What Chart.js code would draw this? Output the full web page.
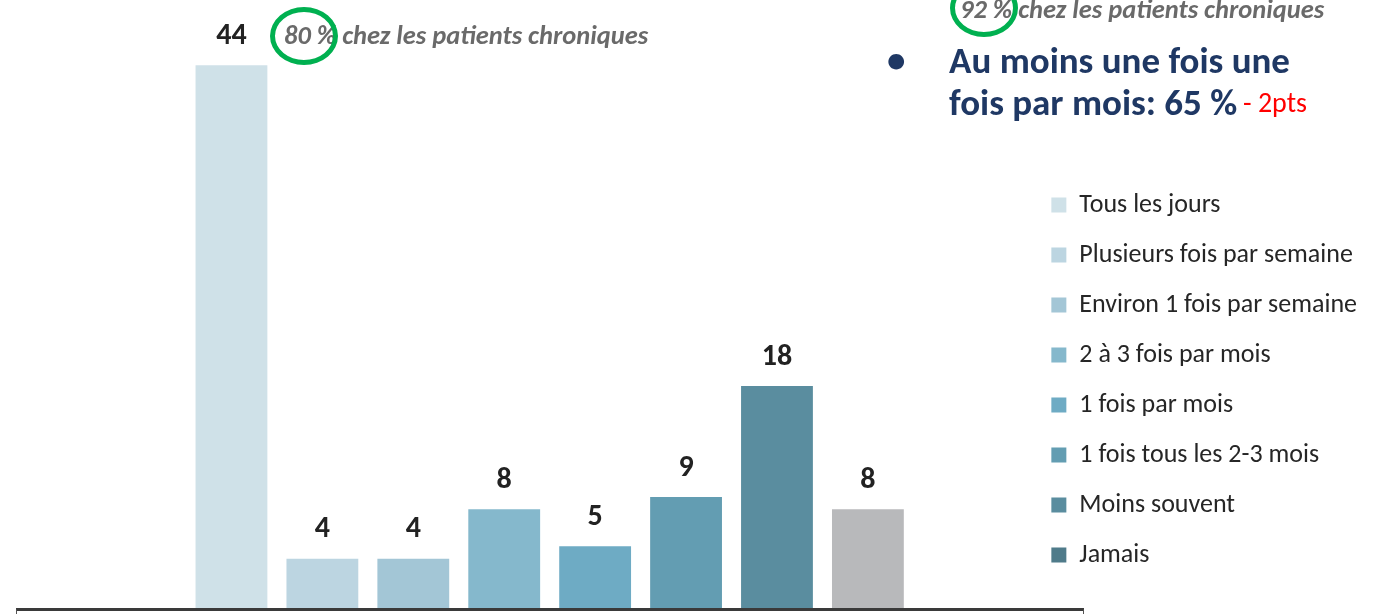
<!DOCTYPE html>
<html>
<head>
<meta charset="utf-8">
<script src="https://cdn.jsdelivr.net/npm/chart.js@4.4.1/dist/chart.umd.min.js"></script>
<style>
    body { margin: 0; background: #fff; }
    #wrap { position: relative; width: 1383px; height: 614px; overflow: hidden; font-family: Carlito, Lato, sans-serif; }
    #chart { position: absolute; left: 0; top: 0; }
    .note { position: absolute; white-space: nowrap; line-height: 1; }
    .chron { font-size: 26.5px; font-weight: bold; font-style: italic; color: #6a6a6a; }
    .ring { position: absolute; box-sizing: border-box; border: 5px solid #00b050; border-radius: 50%; width: 68px; height: 58px; }
    .big { font-size: 37px; font-weight: bold; color: #1f3864; }
    .red { font-size: 28px; color: #ff0000; }
    #frame { position: absolute; left: 16px; top: 608px; width: 1068px; height: 20px; box-sizing: border-box;
             border-top: 3px solid #3a3a3a; border-left: 1px solid #555; border-right: 1px solid #555; }
</style>
</head>
<body>
<div id="wrap">
    <canvas id="chart" width="1383" height="614"></canvas>
    <div class="note chron" style="left:284px; top:22px;">80 % chez les patients chroniques</div>
    <div class="ring" style="left:270px; top:7px;"></div>
    <div class="note chron" style="left:960px; top:-4px;">92 % chez les patients chroniques</div>
    <div class="ring" style="left:950px; top:-21px;"></div>
    <div class="note big" style="left:887px; top:41px;">•</div>
    <div class="note big" style="left:949px; top:42px;">Au moins une fois une</div>
    <div class="note big" style="left:949px; top:84px;">fois par mois: 65 %</div>
    <div class="note red" style="left:1243px; top:89px;">- 2pts</div>
    <div id="frame"></div>
</div>
<script>
// frequence d'utilisation (%)
const categories = [
    'Tous les jours',
    'Plusieurs fois par semaine',
    'Environ 1 fois par semaine',
    '2 à 3 fois par mois',
    '1 fois par mois',
    '1 fois tous les 2-3 mois',
    'Moins souvent',
    'Jamais'
];
const values = [44, 4, 4, 8, 5, 9, 18, 8];
const barColors = ['#cfe1e8', '#bcd5e1', '#a3c6d6', '#85b8cc', '#6eabc4', '#639db2', '#5a8d9f', '#b8b9bb'];
const legendColors = ['#cfe1e8', '#bcd5e1', '#a3c6d6', '#85b8cc', '#6eabc4', '#639db2', '#5a8d9f', '#4f7b8a'];

// etiquettes de valeur au-dessus des barres
const valueLabels = {
    id: 'valueLabels',
    afterDatasetsDraw(chart) {
        const ctx = chart.ctx;
        const meta = chart.getDatasetMeta(0);
        ctx.save();
        ctx.font = 'bold 30px Carlito, Lato, sans-serif';
        ctx.fillStyle = '#222222';
        ctx.textAlign = 'center';
        ctx.textBaseline = 'middle';
        meta.data.forEach((bar, i) => {
            ctx.fillText(String(values[i]), bar.x, bar.y - 29);
        });
        ctx.restore();
    }
};

const ctx = document.getElementById('chart').getContext('2d');
new Chart(ctx, {
    type: 'bar',
    data: {
        labels: categories,
        datasets: [{
            label: 'Fréquence',
            data: values,
            backgroundColor: barColors,
            borderWidth: 0,
            categoryPercentage: 1,
            barPercentage: 0.79
        }]
    },
    options: {
        responsive: false,
        animation: false,
        layout: { padding: { left: 186, right: 16, top: 0, bottom: 6 } },
        plugins: {
            tooltip: { enabled: false },
            legend: {
                position: 'right',
                align: 'start',
                maxWidth: 400,
                title: { display: true, text: ' ', font: { size: 12, lineHeight: 1 }, padding: { top: 0, bottom: 156 } },
                labels: {
                    boxWidth: 15,
                    boxHeight: 15,
                    padding: 24,
                    color: '#262626',
                    font: { size: 26, family: 'Carlito, Lato, sans-serif' },
                    generateLabels: () => categories.map((c, i) => ({
                        text: c,
                        fillStyle: legendColors[i],
                        strokeStyle: legendColors[i],
                        fontColor: '#262626',
                        lineWidth: 0,
                        hidden: false,
                        index: i
                    }))
                }
            }
        },
        scales: {
            x: { display: false },
            y: {
                position: 'right',
                min: 0,
                max: 49.3,
                ticks: { display: false },
                grid: { display: false },
                border: { display: false },
                afterFit: s => { s.width = 114; }
            }
        }
    },
    plugins: [valueLabels]
});
</script>
</body>
</html>
